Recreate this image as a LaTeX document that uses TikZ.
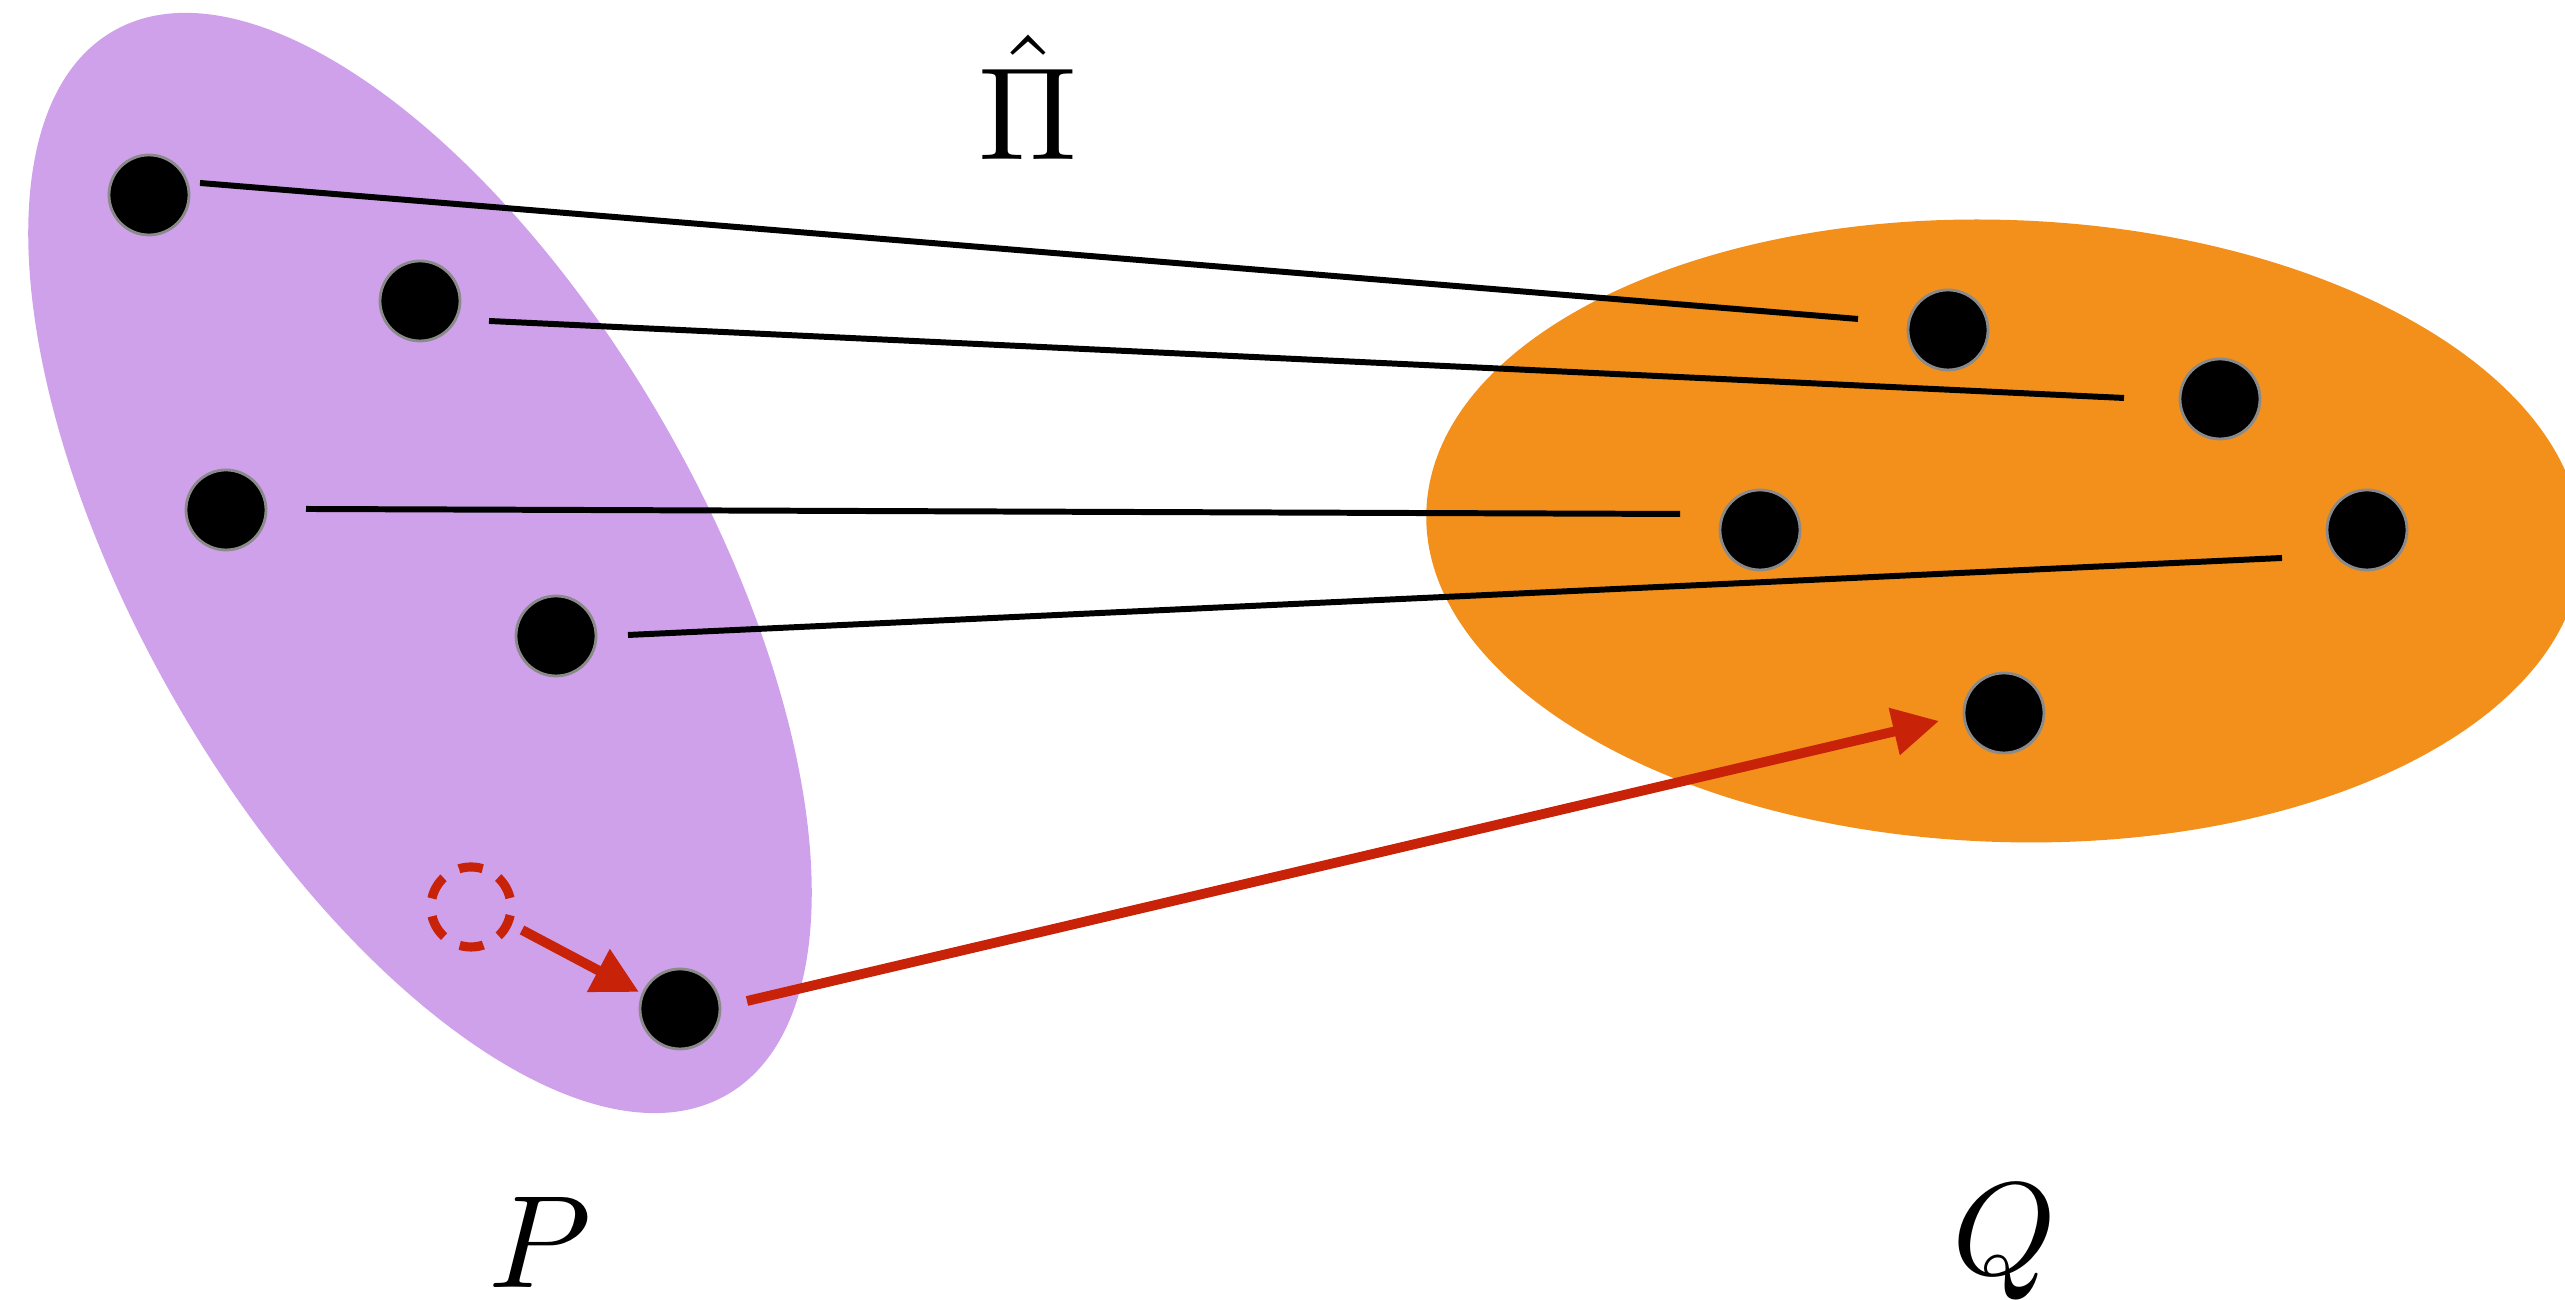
\documentclass[tikz,border=0pt]{standalone}
\usepackage{xcolor}
\usepackage{tikz}
\usetikzlibrary{arrows.meta}
\definecolor{setpurple}{HTML}{CFA1EA}
\definecolor{setorange}{HTML}{F2901B}
\definecolor{mapred}{HTML}{C82209}
\definecolor{dotrim}{HTML}{8A8A8A}

\begin{document}
\begin{tikzpicture}[x=1cm,y=1cm,
  pt/.style={circle,fill=black,draw=dotrim,line width=0.8pt,minimum size=0.8cm,inner sep=0pt},
  ghost/.style={circle,draw=mapred,line width=2.6pt,dash pattern=on 0.24cm off 0.18cm,dash phase=0.33cm,minimum size=0.8cm,inner sep=0pt},
  pair/.style={black,line width=1.7pt},
  move/.style={mapred,line width=2.8pt,-{Triangle[length=4.6mm,width=4.6mm]}},
  lbl/.style={scale=3.75,anchor=base}]
  \clip (0,0) rectangle (25.65,13);
  % the two sets
  \fill[setpurple] (4.20,7.37) ellipse[x radius=6.14,y radius=2.81,rotate=-60];
  \fill[setorange] (20.04,7.69) ellipse[x radius=5.78,y radius=3.11,rotate=-2];
  % points of P
  \node[pt] (p1) at (1.49,11.05) {};
  \node[pt] (p2) at (4.20,9.99) {};
  \node[pt] (p3) at (2.26,7.90) {};
  \node[pt] (p4) at (5.56,6.64) {};
  \node[pt] (p5) at (6.80,2.91) {};
  \node[ghost] (p0) at (4.71,3.93) {};
  % points of Q
  \node[pt] (q1) at (19.48,9.70) {};
  \node[pt] (q2) at (22.20,9.01) {};
  \node[pt] (q3) at (17.60,7.70) {};
  \node[pt] (q4) at (23.67,7.70) {};
  \node[pt] (q5) at (20.04,5.87) {};
  % matching
  \draw[pair] ([shift={(0.51,0.12)}]p1.center) -- ([shift={(-0.90,0.11)}]q1.center);
  \draw[pair] ([shift={(0.69,-0.20)}]p2.center) -- ([shift={(-0.96,0.01)}]q2.center);
  \draw[pair] ([shift={(0.80,0.01)}]p3.center) -- ([shift={(-0.80,0.16)}]q3.center);
  \draw[pair] ([shift={(0.72,0.01)}]p4.center) -- ([shift={(-0.85,-0.28)}]q4.center);
  \draw[move] ([shift={(0.51,-0.23)}]p0.center) -- ([shift={(-0.41,0.17)}]p5.center);
  \draw[move] ([shift={(0.67,0.08)}]p5.center) -- ([shift={(-0.65,-0.08)}]q5.center);
  % labels
  \node[lbl] (pihat) at (10.28,11.40) {$\hat{\Pi}$};
  \node[lbl] (setP) at (5.40,0.12) {$P$};
  \node[lbl] (setQ) at (20.05,0.25) {$Q$};
\end{tikzpicture}
\end{document}
